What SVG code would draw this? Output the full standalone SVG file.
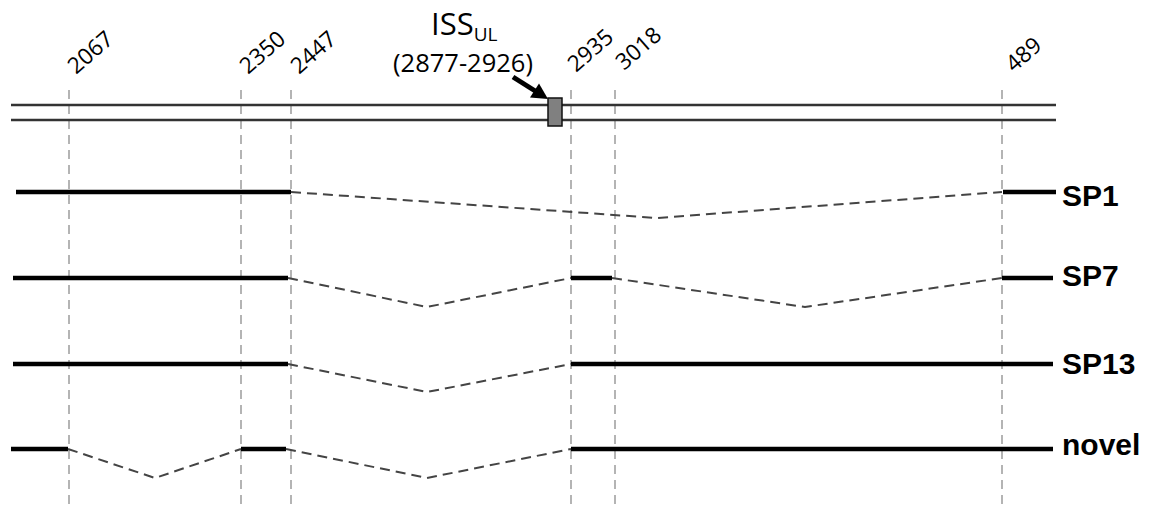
<svg xmlns="http://www.w3.org/2000/svg" width="1155" height="510" viewBox="0 0 1155 510">
<style>
.guide{stroke:#b4b4b4;stroke-width:2;stroke-dasharray:9 6;fill:none}
.strand{stroke:#333;stroke-width:2.4;fill:none}
.exon{stroke:#000;stroke-width:4.5;fill:none}
.intron{stroke:#444;stroke-width:2;stroke-dasharray:10 6;fill:none}
.pos{font-family:"Open Sans","Noto Sans",sans-serif;font-size:22.5px;fill:#000}
.iso{font-family:"Liberation Sans",Arial,sans-serif;font-weight:bold;font-size:30px;fill:#000}
</style>
<rect width="1155" height="510" fill="#fff"/>
<g id="guides">
<line class="guide" x1="69" y1="90" x2="69" y2="505"/>
<line class="guide" x1="241" y1="90" x2="241" y2="505"/>
<line class="guide" x1="291" y1="90" x2="291" y2="505"/>
<line class="guide" x1="571" y1="90" x2="571" y2="505"/>
<line class="guide" x1="615" y1="90" x2="615" y2="505"/>
<line class="guide" x1="1002" y1="90" x2="1002" y2="505"/>
</g>
<g id="positions">
<text class="pos" transform="translate(76,75) rotate(-41)">2067</text>
<text class="pos" transform="translate(248,75) rotate(-41)">2350</text>
<text class="pos" transform="translate(299,75) rotate(-41)">2447</text>
<text class="pos" transform="translate(576,73) rotate(-41)">2935</text>
<text class="pos" transform="translate(624,71) rotate(-41)">3018</text>
<text class="pos" transform="translate(1014,73) rotate(-41)">489</text>
</g>
<g id="genome">
<line class="strand" x1="11" y1="105" x2="1056" y2="105"/>
<line class="strand" x1="11" y1="120" x2="1056" y2="120"/>
</g>
<g id="iss">
<text x="431" y="35" font-family="'Open Sans','Noto Sans',sans-serif" font-size="31" fill="#000">ISS<tspan font-size="19" dy="6">UL</tspan></text>
<text x="463" y="72" text-anchor="middle" font-family="'Open Sans','Noto Sans',sans-serif" font-size="25.5" fill="#000">(2877-2926)</text>
<line x1="513" y1="77" x2="536" y2="91.5" stroke="#000" stroke-width="5"/>
<polygon points="548,99 530,97.5 539,83.5" fill="#000"/>
<rect x="548" y="98" width="14" height="28" fill="#808080" stroke="#111" stroke-width="1.5"/>
</g>
<g id="sp1">
<line class="exon" x1="16" y1="192" x2="291" y2="192"/>
<line class="exon" x1="1003" y1="192" x2="1056" y2="192"/>
<text class="iso" x="1062" y="206">SP1</text>
</g>
<g id="sp7">
<line class="exon" x1="13" y1="278" x2="288" y2="278"/>
<line class="exon" x1="571" y1="278" x2="612" y2="278"/>
<line class="exon" x1="1002" y1="278" x2="1053" y2="278"/>
<text class="iso" x="1062" y="286">SP7</text>
</g>
<g id="sp13">
<line class="exon" x1="13" y1="364" x2="288" y2="364"/>
<line class="exon" x1="571" y1="364" x2="1053" y2="364"/>
<text class="iso" x="1062" y="374">SP13</text>
</g>
<g id="novel">
<line class="exon" x1="11" y1="449" x2="68" y2="449"/>
<line class="exon" x1="241" y1="449" x2="286" y2="449"/>
<line class="exon" x1="571" y1="449" x2="1053" y2="449"/>
<text class="iso" x="1062" y="455">novel</text>
</g>
<g id="connectors">
<polyline class="intron" points="291,192 657,218 1002,192"/>
<polyline class="intron" points="288,278 427,307 571,278"/>
<polyline class="intron" points="612,278 805,307 1002,278"/>
<polyline class="intron" points="288,364 427,392 571,364"/>
<polyline class="intron" points="68,449 155,478 241,449"/>
<polyline class="intron" points="286,449 427,478 571,449"/>
</g>
</svg>
